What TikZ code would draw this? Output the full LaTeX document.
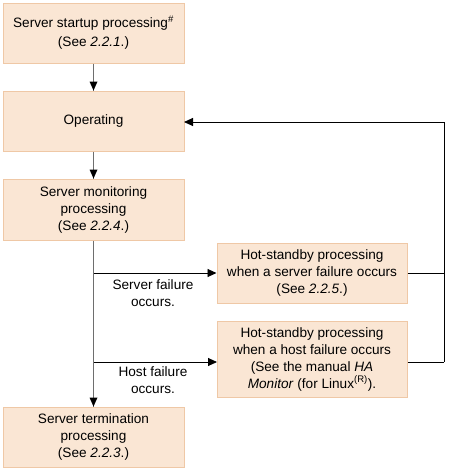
\documentclass[tikz,border=0pt]{standalone}
\usepackage{fontspec}
\setmainfont{Liberation Sans}
\usetikzlibrary{arrows.meta}
\definecolor{boxfill}{HTML}{FAE6D4}
\definecolor{boxline}{HTML}{EFC8A6}
\definecolor{vline}{HTML}{6E6E6E}
\begin{document}
\begin{tikzpicture}[x=1pt,y=-1pt,
  box/.style={draw=boxline,fill=boxfill,line width=1pt,inner sep=0pt,align=center,
    font=\fontsize{13.6}{17}\selectfont,text=black},
  lbl/.style={align=center,font=\fontsize{13.6}{17}\selectfont,inner sep=0pt},
  tip/.style={-{Triangle[length=9pt,width=8pt]}},
  vl/.style={draw=vline,line width=1.8pt},
  hl/.style={draw=black,line width=0.9pt}]
\useasboundingbox (0,0) rectangle (448,471);
\node[box,minimum width=181pt,minimum height=60pt] (b1) at (93.5,33) {Server startup processing\textsuperscript{\#}\\[2pt](See \textit{2.2.1}.)};
\node[box,minimum width=181pt,minimum height=60pt] (b2) at (93.5,121) {Operating};
\node[box,minimum width=181pt,minimum height=61pt] (b3) at (93.5,209.5) {Server monitoring\\processing\\(See \textit{2.2.4}.)};
\node[box,minimum width=190pt,minimum height=60pt] (b4) at (312,273) {Hot-standby processing\\when a server failure occurs\\(See \textit{2.2.5}.)};
\node[box,minimum width=190pt,minimum height=76pt] (b5) at (312,359) {Hot-standby processing\\when a host failure occurs\\(See the manual \textit{HA}\\\textit{Monitor} (for Linux\textsuperscript{(R)}).};
\node[box,minimum width=181pt,minimum height=60pt] (b6) at (93.5,437) {Server termination\\processing\\(See \textit{2.2.3}.)};
\coordinate (j1) at (94,273);
\coordinate (j2) at (94,362);
\coordinate (r1) at (444,273);
\coordinate (r2) at (444,362);
\coordinate (rt) at (444,122);
\coordinate (e2) at (184,122);
\coordinate (w5) at (217,362);
\draw[vl] (b1.south) -- (b2.north);
\draw[vl] (b2.south) -- (b3.north);
\draw[vl] (b3.south) -- (b6.north);
\fill (b2.north) -- ++(-4,-9) -- ++(8,0) -- cycle;
\fill (b3.north) -- ++(-4,-9) -- ++(8,0) -- cycle;
\fill (b6.north) -- ++(-4,-9) -- ++(8,0) -- cycle;
\draw[hl,tip] (j1) -- (b4.west);
\draw[hl,tip] (j2) -- (w5);
\draw[hl] (b4.east) -- (r1);
\draw[hl] (b5.east |- r2) -- (r2);
\draw[hl,tip] (r2) -- (rt) -- (e2);
\node[lbl] (l1) at (153,293) {Server failure\\occurs.};
\node[lbl] (l2) at (153,380.5) {Host failure\\occurs.};
\end{tikzpicture}
\end{document}
